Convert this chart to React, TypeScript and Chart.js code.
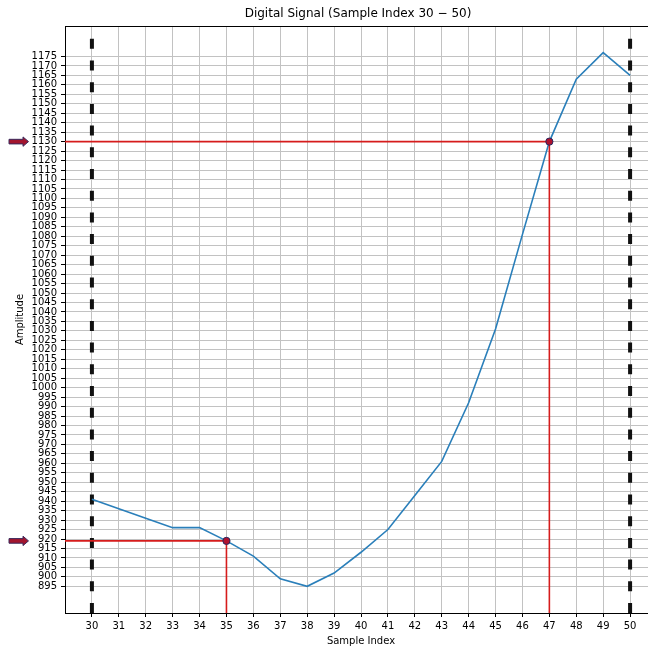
import React, { useEffect, useRef } from "react";
import { Chart, registerables } from "chart.js";

Chart.register(...registerables);

const sampleIndex = [30, 31, 32, 33, 34, 35, 36, 37, 38, 39, 40, 41, 42, 43, 44, 45, 46, 47, 48, 49, 50];
const amplitude = [941, 936, 931, 926, 926, 919, 911, 899, 895, 902, 913, 925, 943, 961, 992, 1031, 1081, 1130, 1163, 1177, 1165];
const xTickValues = [30, 31, 32, 33, 34, 35, 36, 37, 38, 39, 40, 41, 42, 43, 44, 45, 46, 47, 48, 49, 50];
const yTickValues = [
  895, 900, 905, 910, 915, 920, 925, 930, 935, 940, 945, 950, 955, 960, 965, 970, 975, 980, 985, 990, 995,
  1000, 1005, 1010, 1015, 1020, 1025, 1030, 1035, 1040, 1045, 1050, 1055, 1060, 1065, 1070, 1075, 1080,
  1085, 1090, 1095, 1100, 1105, 1110, 1115, 1120, 1125, 1130, 1135, 1140, 1145, 1150, 1155, 1160, 1165,
  1170, 1175,
];
const markedIndex = [35, 47];
const markedAmplitude = [919, 1130];
const boundaryIndex = [30, 50];

const titleText = "Digital Signal (Sample Index 30 \u2212 50)";
const xLabel = "Sample Index";
const yLabel = "Amplitude";

const FONT = "'DejaVu Sans', sans-serif";

export default function App() {
  const ref = useRef<HTMLCanvasElement>(null);

  useEffect(() => {
    const canvas = ref.current;
    if (!canvas) return;

    const overlay = {
      id: "overlay",
      beforeDatasetsDraw(chart: any) {
        const { ctx, chartArea } = chart;
        const { left, right, top, bottom } = chartArea;
        const xs = chart.scales.x;
        ctx.save();
        ctx.beginPath();
        ctx.rect(left, top, right - left, bottom - top);
        ctx.clip();
        ctx.strokeStyle = "#111111";
        ctx.lineWidth = 4;
        ctx.setLineDash([10, 11.7]);
        boundaryIndex.forEach((v) => {
          const px = xs.getPixelForValue(v);
          ctx.beginPath();
          ctx.moveTo(px, bottom);
          ctx.lineTo(px, top);
          ctx.stroke();
        });
        ctx.restore();
      },
      afterDatasetDraw(chart: any, args: any) {
        if (args.index !== 1) return;
        const { ctx, chartArea } = chart;
        const { left, bottom } = chartArea;
        const xs = chart.scales.x;
        const ys = chart.scales.y;
        ctx.save();
        ctx.strokeStyle = "#d61c1c";
        ctx.lineWidth = 1.6;
        markedIndex.forEach((mx, i) => {
          const px = xs.getPixelForValue(mx);
          const py = ys.getPixelForValue(markedAmplitude[i]);
          ctx.beginPath();
          ctx.moveTo(left, py);
          ctx.lineTo(px, py);
          ctx.moveTo(px, py);
          ctx.lineTo(px, bottom);
          ctx.stroke();
        });
        ctx.restore();
      },
      afterDraw(chart: any) {
        const { ctx, chartArea } = chart;
        const { left, right, top } = chartArea;
        const ys = chart.scales.y;
        ctx.save();
        // top spine
        ctx.strokeStyle = "#000";
        ctx.lineWidth = 1;
        ctx.beginPath();
        ctx.moveTo(left, top + 0.5);
        ctx.lineTo(right, top + 0.5);
        ctx.stroke();
        // title
        ctx.fillStyle = "#000";
        ctx.font = `12px ${FONT}`;
        ctx.textAlign = "center";
        ctx.textBaseline = "middle";
        ctx.fillText(titleText, (left + right) / 2 - 3, 14);
        // arrows
        markedAmplitude.forEach((v) => {
          const py = ys.getPixelForValue(v);
          const x0 = 9;
          const xh = 23;
          const xt = 28.5;
          ctx.beginPath();
          ctx.moveTo(x0, py - 2.3);
          ctx.lineTo(xh, py - 2.3);
          ctx.lineTo(xh, py - 4.7);
          ctx.lineTo(xt, py);
          ctx.lineTo(xh, py + 4.7);
          ctx.lineTo(xh, py + 2.3);
          ctx.lineTo(x0, py + 2.3);
          ctx.closePath();
          ctx.fillStyle = "#a3152e";
          ctx.fill();
          ctx.strokeStyle = "#3a2a5c";
          ctx.lineWidth = 1;
          ctx.stroke();
        });
        ctx.restore();
      },
    };

    const chart = new Chart(canvas, {
      type: "line",
      data: {
        datasets: [
          {
            label: "marks",
            data: markedIndex.map((x, i) => ({ x, y: markedAmplitude[i] })),
            showLine: false,
            pointRadius: 3.6,
            pointBackgroundColor: "#b0122e",
            pointBorderColor: "#26265e",
            pointBorderWidth: 1,
          },
          {
            label: "signal",
            data: sampleIndex.map((x, i) => ({ x, y: amplitude[i] })),
            borderColor: "#2a7fba",
            borderWidth: 1.6,
            pointRadius: 0,
            tension: 0,
            fill: false,
          },
        ],
      },
      options: {
        responsive: false,
        animation: false,
        events: [],
        layout: { padding: { top: 26, left: 0, right: 0, bottom: 0 } },
        plugins: {
          legend: { display: false },
          tooltip: { enabled: false },
          title: { display: false },
        },
        scales: {
          x: {
            type: "linear",
            min: 29,
            max: 51,
            afterBuildTicks: (s: any) => {
              s.ticks = xTickValues.map((v) => ({ value: v }));
            },
            afterFit: (s: any) => {
              s.height = 35;
            },
            ticks: {
              autoSkip: false,
              maxRotation: 0,
              padding: 3,
              color: "#000",
              font: { family: FONT, size: 10 },
              callback: (v: any) => String(v),
            },
            grid: {
              color: "#c2c2c2",
              lineWidth: 1,
              drawTicks: true,
              tickLength: 4,
              tickColor: "#000",
              tickWidth: 1,
            },
            border: { display: true, color: "#000", width: 1 },
            title: {
              display: true,
              text: xLabel,
              color: "#000",
              font: { family: FONT, size: 10 },
              padding: { top: 0, bottom: 1 },
            },
          },
          y: {
            type: "linear",
            min: 880.9,
            max: 1191.1,
            afterBuildTicks: (s: any) => {
              s.ticks = yTickValues.map((v) => ({ value: v }));
            },
            afterFit: (s: any) => {
              s.width = 65;
            },
            ticks: {
              autoSkip: false,
              padding: 4,
              color: "#000",
              font: { family: FONT, size: 10 },
              callback: (v: any) => String(v),
            },
            grid: {
              color: "#c2c2c2",
              lineWidth: 1,
              drawTicks: true,
              tickLength: 4,
              tickColor: "#000",
              tickWidth: 1,
            },
            border: { display: true, color: "#000", width: 1 },
            title: {
              display: true,
              text: yLabel,
              color: "#000",
              font: { family: FONT, size: 10 },
              padding: { top: 14, bottom: 0 },
            },
          },
        },
      },
      plugins: [overlay],
    });

    return () => {
      chart.destroy();
    };
  }, []);

  return (
    <div
      style={{
        position: "fixed",
        left: 0,
        top: 0,
        width: 648,
        height: 648,
        overflow: "hidden",
        background: "#fff",
      }}
    >
      <canvas ref={ref} width={662} height={648} style={{ display: "block", width: 662, height: 648 }} />
    </div>
  );
}
